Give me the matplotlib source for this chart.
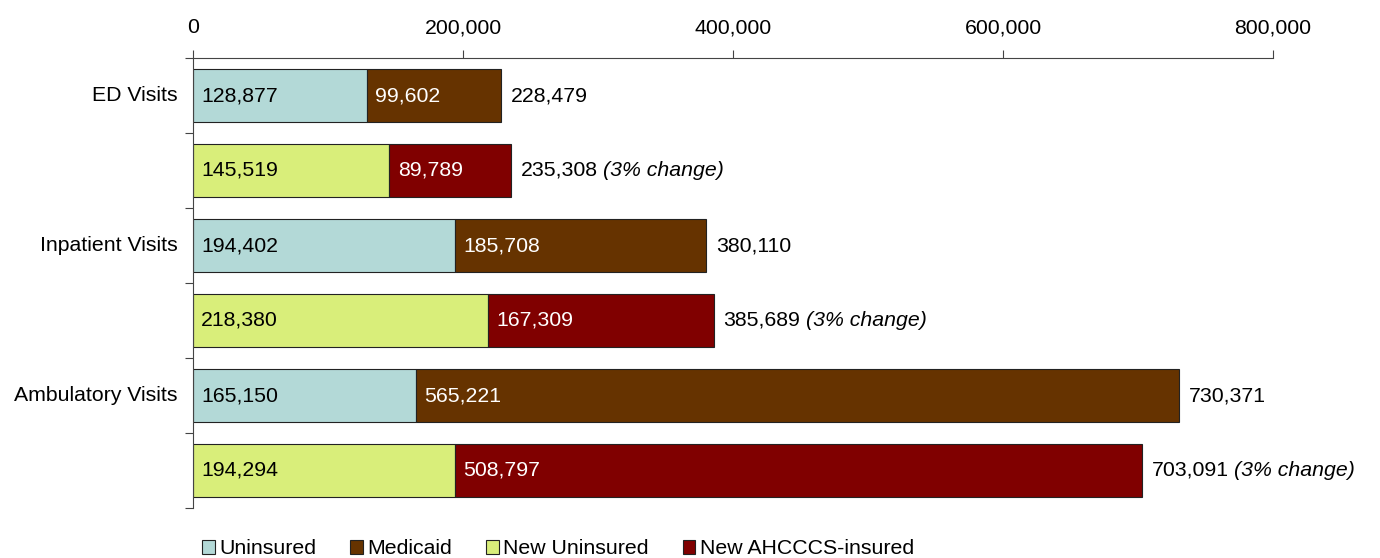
import matplotlib
matplotlib.use("Agg")
import matplotlib.pyplot as plt
from matplotlib.patches import Patch

plt.rcParams['font.family'] = ['Liberation Sans', 'DejaVu Sans']

groups = ['ED Visits', 'Inpatient Visits', 'Ambulatory Visits']
uninsured = [128877, 194402, 165150]
medicaid = [99602, 185708, 565221]
new_uninsured = [145519, 218380, 194294]
new_ahcccs = [89789, 167309, 508797]
change_note = '(3% change)'
xticks = [0, 200000, 400000, 600000, 800000]

c_unins = '#b3d9d7'
c_medic = '#663300'
c_newun = '#d9ee7a'
c_ahccc = '#800000'

fig = plt.figure(figsize=(13.8, 5.58), dpi=100)
ax = fig.add_axes([193 / 1380, 1 - 508 / 558, 1080 / 1380, 450 / 558])

h = 0.71
fs = 15.3


def seg_label(x, y, v, color):
    ax.annotate(f'{v:,}', (x, y), xytext=(6, 0), textcoords='offset points',
                ha='left', va='center', fontsize=fs, color=color)


totals = []
for i in range(len(groups)):
    y1 = 2 * i + 0.5
    y2 = 2 * i + 1.5
    ax.barh(y1, uninsured[i], height=h, color=c_unins, edgecolor='#222222', linewidth=0.8)
    ax.barh(y1, medicaid[i], left=uninsured[i], height=h, color=c_medic,
            edgecolor='#222222', linewidth=0.8)
    ax.barh(y2, new_uninsured[i], height=h, color=c_newun, edgecolor='#222222', linewidth=0.8)
    ax.barh(y2, new_ahcccs[i], left=new_uninsured[i], height=h, color=c_ahccc,
            edgecolor='#222222', linewidth=0.8)

    seg_label(0, y1, uninsured[i], 'black')
    seg_label(uninsured[i], y1, medicaid[i], 'white')
    seg_label(0, y2, new_uninsured[i], 'black')
    seg_label(new_uninsured[i], y2, new_ahcccs[i], 'white')

    t1 = uninsured[i] + medicaid[i]
    t2 = new_uninsured[i] + new_ahcccs[i]
    ax.annotate(f'{t1:,}', (t1, y1), xytext=(7, 0), textcoords='offset points',
                ha='left', va='center', fontsize=fs)
    totals.append(ax.annotate(f'{t2:,}', (t2, y2), xytext=(7, 0), textcoords='offset points',
                              ha='left', va='center', fontsize=fs))

ax.set_xlim(0, 800000)
ax.set_ylim(6, 0)
ax.xaxis.tick_top()
ax.set_xticks(xticks)
ax.set_xticklabels([f'{v:,}' for v in xticks], fontsize=fs)
ax.tick_params(axis='x', length=6, width=0.8, pad=9, color='#444444')
ax.set_yticks(range(7))
ax.set_yticklabels([])
ax.tick_params(axis='y', length=6, width=0.8, color='#444444')
for i, g in enumerate(groups):
    ax.text(-15 / 1080 * 800000, 2 * i + 0.5, g, ha='right', va='center', fontsize=fs)

for s in ['right', 'bottom']:
    ax.spines[s].set_visible(False)
for s in ['left', 'top']:
    ax.spines[s].set_color('#444444')
    ax.spines[s].set_linewidth(0.8)

# italic note after each new-coverage total
fig.canvas.draw()
r = fig.canvas.get_renderer()
for t in totals:
    bb = t.get_window_extent(r)
    x, _ = ax.transData.inverted().transform((bb.x1, 0))
    ax.annotate(change_note, (x, t.xy[1]), xytext=(4, 0), textcoords='offset points',
                ha='left', va='center', fontsize=fs, style='italic')

handles = [Patch(facecolor=c, edgecolor='#222222', linewidth=0.8)
           for c in [c_unins, c_medic, c_newun, c_ahccc]]
fig.legend(handles, ['Uninsured', 'Medicaid', 'New Uninsured', 'New AHCCCS-insured'],
           ncol=4, loc='center', bbox_to_anchor=(558 / 1380, 1 - 549 / 558),
           frameon=False, fontsize=fs, handlelength=0.6, handleheight=0.6,
           handletextpad=0.2, columnspacing=1.6)

fig.savefig('out.png', dpi=100)
